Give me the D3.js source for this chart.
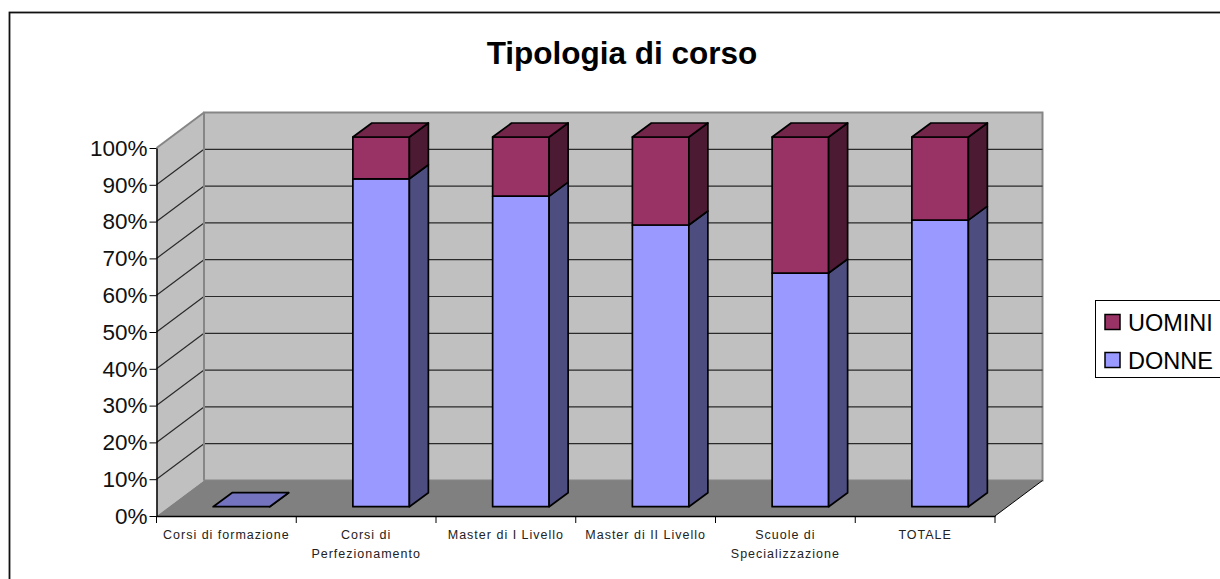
<!DOCTYPE html>
<meta charset="utf-8">

<style type="text/css">

    body {
        margin: 0;
        background: #fff;
        overflow: hidden;
    }

    text {
        font-family: "Liberation Sans", Arial, sans-serif;
        fill: #000;
    }

    path.domain {
        stroke: #000;
        stroke-width: 1.5;
    }

    .tick line {
        stroke: #000;
        stroke-width: 1;
    }

    .y.axis text {
        font-size: 22.5px;
        fill: #111;
    }

    .x.axis text {
        font-size: 12.5px;
        letter-spacing: 1px;
        fill: #222;
    }

    .grid {
        stroke: #2a2a2a;
        stroke-width: 1.2;
    }

    .wall-edge {
        stroke: #868686;
        stroke-width: 2;
    }

    .mark {
        stroke: #000;
        stroke-width: 1.7;
        stroke-linejoin: round;
    }

</style>

<body></body>

<script src="https://d3js.org/d3.v7.min.js"></script>

<script>

var categories = ["Corsi di formazione", "Corsi di\nPerfezionamento", "Master di I Livello",
    "Master di II Livello", "Scuole di\nSpecializzazione", "TOTALE"];
var donne = [0, 88.7, 84, 76.2, 63.2, 77.5];
var uomini = [0, 11.3, 16, 23.8, 36.8, 22.5];
var yTicks = [0, 10, 20, 30, 40, 50, 60, 70, 80, 90, 100];
var gridTicks = [10, 20, 30, 40, 50, 60, 70, 80, 90];

var w = 1220, h = 579;

var svg = d3.select("body").append("svg")
    .attr("width", w)
    .attr("height", h);

var xscale = d3.scaleBand()
    .domain(categories)
    .range([156.5, 995]);

var yscale = d3.scaleLinear()
    .domain([0, 100])
    .range([516, 148]);

// bars stand a bit inside the floor, so they get their own vertical scale
var barscale = d3.scaleLinear()
    .domain([0, 100])
    .range([506.7, 137]);

// depth of the walls and of the bars
var depth = {dx: 47.5, dy: -35.5};
var barDepth = {dx: 19, dy: -14};
var barWidth = 56.5;
var barInset = 15;

function pts(list) {
    return list.map(function(p) { return p.join(","); }).join(" ");
}

// outer frame, runs off the right and bottom of the picture
svg.append("rect")
    .attr("x", 9.5)
    .attr("y", 12.5)
    .attr("width", w + 20)
    .attr("height", h + 20)
    .attr("fill", "#fff")
    .attr("stroke", "#111")
    .attr("stroke-width", 1.8);

svg.append("text")
    .attr("x", 622)
    .attr("y", 64)
    .attr("text-anchor", "middle")
    .attr("font-weight", "bold")
    .attr("font-size", 31.5)
    .text("Tipologia di corso");

var x0 = xscale.range()[0], x1 = xscale.range()[1];
var yb = yscale(0), yt = yscale(100);

// back wall
svg.append("polygon")
    .attr("class", "wall-edge")
    .attr("fill", "#c0c0c0")
    .attr("points", pts([[x0 + depth.dx, yt + depth.dy], [x1 + depth.dx, yt + depth.dy],
        [x1 + depth.dx, yb + depth.dy], [x0 + depth.dx, yb + depth.dy]]));

// side wall
svg.append("polygon")
    .attr("fill", "#c0c0c0")
    .attr("points", pts([[x0, yt], [x0 + depth.dx, yt + depth.dy],
        [x0 + depth.dx, yb + depth.dy], [x0, yb]]));

svg.append("line")
    .attr("class", "wall-edge")
    .attr("x1", x0).attr("y1", yt)
    .attr("x2", x0 + depth.dx).attr("y2", yt + depth.dy);

// gridlines on both walls
svg.selectAll("line.back")
    .data(gridTicks)
    .enter()
    .append("line")
    .attr("class", "grid back")
    .attr("x1", x0 + depth.dx)
    .attr("x2", x1 + depth.dx)
    .attr("y1", function(d) { return yscale(d) + depth.dy; })
    .attr("y2", function(d) { return yscale(d) + depth.dy; });

svg.selectAll("line.side")
    .data(gridTicks)
    .enter()
    .append("line")
    .attr("class", "grid side")
    .attr("x1", x0)
    .attr("x2", x0 + depth.dx)
    .attr("y1", yscale)
    .attr("y2", function(d) { return yscale(d) + depth.dy; });

// floor
svg.append("polygon")
    .attr("fill", "#808080")
    .attr("points", pts([[x0, yb], [x0 + depth.dx, yb + depth.dy],
        [x1 + depth.dx, yb + depth.dy], [x1, yb]]));

svg.append("line")
    .attr("x1", x1).attr("y1", yb)
    .attr("x2", x1 + depth.dx).attr("y2", yb + depth.dy)
    .attr("stroke", "#000");

svg.append("line")
    .attr("class", "wall-edge")
    .attr("x1", x0 + depth.dx).attr("y1", yt + depth.dy)
    .attr("x2", x0 + depth.dx).attr("y2", yb + depth.dy);

var yaxis = d3.axisLeft()
    .scale(yscale)
    .tickValues(yTicks)
    .tickSize(7)
    .tickSizeOuter(0)
    .tickPadding(2)
    .tickFormat(function(d) { return d + "%"; });

svg.append("g")
    .attr("class", "y axis")
    .attr("transform", "translate(" + x0 + ",0)")
    .call(yaxis);

// x axis ticks sit on the band edges, not the centres
var xaxis = d3.axisBottom()
    .scale(xscale)
    .tickSize(0)
    .tickPadding(0);

var gx = svg.append("g")
    .attr("class", "x axis")
    .attr("transform", "translate(0," + yb + ")")
    .call(xaxis);

gx.selectAll(".tick text").each(function(d) {
    var t = d3.select(this).text(null).attr("y", 0).attr("dy", null);
    d.split("\n").forEach(function(line, i) {
        t.append("tspan")
            .attr("x", 0)
            .attr("y", 22.5 + i * 19)
            .text(line);
    });
});

gx.selectAll("line.edge")
    .data(categories.concat([null]))
    .enter()
    .append("line")
    .attr("class", "edge")
    .attr("stroke", "#000")
    .attr("x1", function(d, i) { return x0 + i * xscale.step(); })
    .attr("x2", function(d, i) { return x0 + i * xscale.step(); })
    .attr("y1", 0)
    .attr("y2", 7);

// bars, stacked, each one drawn as front, side and top faces
var series = [
    {name: "DONNE", start: function(i) { return 0; }, values: donne,
        front: "#9999ff", side: "#4d4d80", top: "#7373bf"},
    {name: "UOMINI", start: function(i) { return donne[i]; }, values: uomini,
        front: "#993366", side: "#4d1a33", top: "#732649"}
];

series.forEach(function(s) {
    var bars = svg.selectAll("g.bar-" + s.name)
        .data(categories.map(function(c, i) {
            return {cat: c, y0: s.start(i), y1: s.start(i) + s.values[i]};
        }))
        .enter()
        .filter(function(d) {
            // the empty top of the first bar is not drawn
            return d.y1 > d.y0 || s.name == "DONNE";
        })
        .append("g")
        .attr("class", "bar-" + s.name);

    function left(d) {
        return xscale(d.cat) + xscale.bandwidth() / 2 + barInset - barWidth / 2;
    }

    bars.append("rect")
        .attr("class", "mark")
        .attr("fill", s.front)
        .attr("x", left)
        .attr("width", barWidth)
        .attr("y", function(d) { return barscale(d.y1); })
        .attr("height", function(d) { return barscale(d.y0) - barscale(d.y1); });

    bars.append("polygon")
        .attr("class", "mark")
        .attr("fill", s.side)
        .attr("points", function(d) {
            var r = left(d) + barWidth;
            return pts([[r, barscale(d.y1)], [r + barDepth.dx, barscale(d.y1) + barDepth.dy],
                [r + barDepth.dx, barscale(d.y0) + barDepth.dy], [r, barscale(d.y0)]]);
        });

    bars.append("polygon")
        .attr("class", "mark")
        .attr("fill", function(d) { return (d.y1 == 100 || d.y1 == 0) ? s.top : "none"; })
        .attr("points", function(d) {
            var l = left(d), r = l + barWidth, t = barscale(d.y1);
            return pts([[l, t], [l + barDepth.dx, t + barDepth.dy],
                [r + barDepth.dx, t + barDepth.dy], [r, t]]);
        })
        .attr("display", function(d) { return (d.y1 == 100 || d.y1 == 0) ? null : "none"; });
});

// legend, its box runs past the picture edge
var legend = svg.append("g");

legend.append("rect")
    .attr("x", 1095.5)
    .attr("y", 300.5)
    .attr("width", 150)
    .attr("height", 77)
    .attr("fill", "#fff")
    .attr("stroke", "#000");

var legendRow = legend.selectAll("g.row")
    .data(series.slice().reverse())
    .enter()
    .append("g")
    .attr("class", "row")
    .attr("transform", function(d, i) { return "translate(1105," + (314.5 + i * 38) + ")"; });

legendRow.append("rect")
    .attr("width", 15)
    .attr("height", 15)
    .attr("fill", function(d) { return d.front; })
    .attr("stroke", "#000")
    .attr("stroke-width", 1.5);

legendRow.append("text")
    .attr("x", 23)
    .attr("y", 16)
    .attr("font-size", 23.5)
    .text(function(d) { return d.name; });

</script>
